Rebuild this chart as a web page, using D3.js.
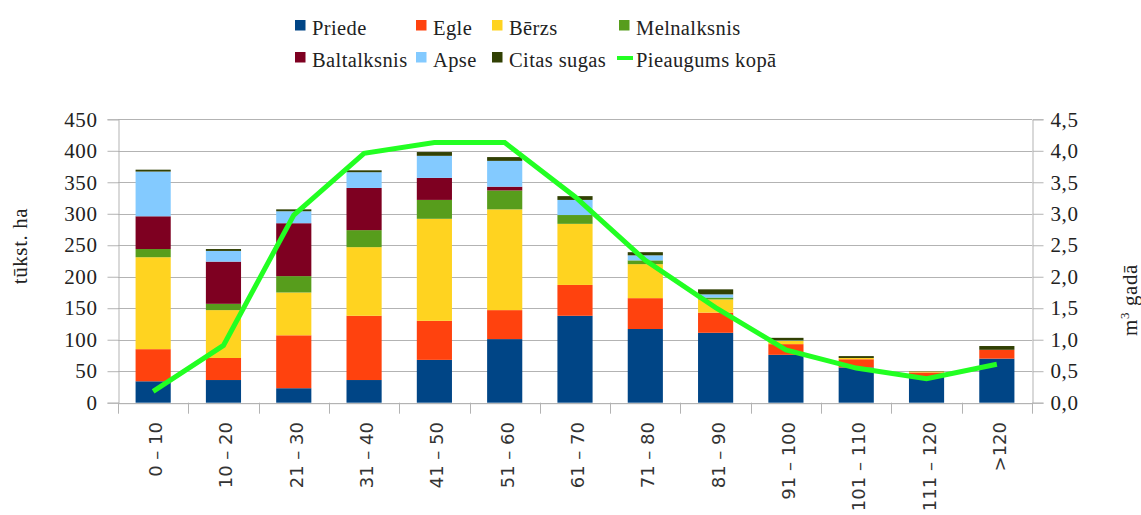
<!DOCTYPE html>
<html><head><meta charset="utf-8">
<script src="https://cdn.jsdelivr.net/npm/d3@7"></script>
<style>
html,body{margin:0;padding:0;background:#fff;}
svg{display:block;}
</style></head>
<body>
<svg id="chart" width="1141" height="515"></svg>
<script>
const categories = ["0 – 10","10 – 20","21 – 30","31 – 40","41 – 50","51 – 60","61 – 70","71 – 80","81 – 90","91 – 100","101 – 110","111 – 120",">120"];
const seriesNames = ["Priede","Egle","Bērzs","Melnalksnis","Baltalksnis","Apse","Citas sugas"];
const priede      = [34, 36, 23, 36, 68, 101, 138, 117, 111, 76, 56, 42, 70];
const egle        = [51, 35, 84, 102, 62, 46, 49, 49, 32, 17, 13, 6, 14];
const berzs       = [146, 76, 68, 109, 162, 160, 97, 54, 21, 5, 2, 1.5, 0];
const melnalksnis = [13, 10, 26, 27, 30, 30, 14, 6, 3, 0.5, 0, 0, 0];
const baltalksnis = [52, 67, 84, 67, 35, 6, 0, 0, 0, 0, 0, 0, 0];
const apse        = [71, 17, 19, 25, 35, 41, 24, 8, 5, 0.5, 0, 0, 0];
const citasSugas  = [3, 3, 3, 3, 6, 6, 6, 5, 8, 4, 3, 0.5, 6];
const pieaugums   = [0.18, 0.91, 2.98, 3.96, 4.13, 4.13, 3.27, 2.26, 1.51, 0.84, 0.55, 0.38, 0.61];
const leftTicks  = [0,50,100,150,200,250,300,350,400,450];
const rightTicks = [0,0.5,1,1.5,2,2.5,3,3.5,4,4.5];
const colors = ["#004586","#ff420e","#ffd320","#579d1c","#7e0021","#83caff","#314004"];
const lineColor = "#22ff22";
const lineName = "Pieaugums kopā";

const seriesData = [priede, egle, berzs, melnalksnis, baltalksnis, apse, citasSugas];
const rows = categories.map((c,i)=>{const r={cat:c}; seriesNames.forEach((s,j)=>r[s]=seriesData[j][i]); return r;});

const svg = d3.select("#chart");
const L = 118, R = 1032, T = 119.3, B = 402.7;
const serif = "'Liberation Serif', 'Times New Roman', serif";

const x = d3.scaleBand().domain(categories).range([L,R]).paddingInner(0.5).paddingOuter(0.25);
const y = d3.scaleLinear().domain([0,450]).range([B,T]);
const y2 = d3.scaleLinear().domain([0,4.5]).range([B,T]);

// gridlines
svg.append("g").selectAll("line").data(leftTicks).join("line")
  .attr("x1",L).attr("x2",R).attr("y1",d=>Math.round(y(d))+0.5).attr("y2",d=>Math.round(y(d))+0.5)
  .attr("stroke","#b3b3b3").attr("stroke-width",1);

// left axis
const gl = svg.append("g").attr("transform",`translate(${L+0.5},0)`)
  .call(d3.axisLeft(y).tickValues(leftTicks).tickSize(11).tickPadding(10).tickFormat(d3.format("d")));
gl.select(".domain").attr("stroke","#b3b3b3");
gl.selectAll(".tick line").attr("stroke","#b3b3b3");
gl.selectAll(".tick text").attr("font-family",serif).attr("font-size",21).attr("fill","#222").attr("letter-spacing","0.6px");

// right axis
const gr = svg.append("g").attr("transform",`translate(${R+0.5},0)`)
  .call(d3.axisRight(y2).tickValues(rightTicks).tickSize(11).tickPadding(7).tickFormat(d=>d3.format(".1f")(d).replace(".",",")));
gr.select(".domain").attr("stroke","#b3b3b3");
gr.selectAll(".tick line").attr("stroke","#b3b3b3");
gr.selectAll(".tick text").attr("font-family",serif).attr("font-size",21).attr("fill","#222").attr("letter-spacing","0.6px");

// bars
const stack = d3.stack().keys(seriesNames)(rows);
svg.append("g").selectAll("g").data(stack).join("g").attr("fill",(d,i)=>colors[i])
  .selectAll("rect").data(d=>d).join("rect")
  .attr("x",d=>x(d.data.cat)).attr("width",x.bandwidth())
  .attr("y",d=>y(d[1])).attr("height",d=>Math.max(0,y(d[0])-y(d[1])));

// x axis
const xb = d3.scaleBand().domain(categories).range([L,R]);
const gx = svg.append("g").attr("transform",`translate(0,${B+0.5})`)
  .call(d3.axisBottom(x).tickSize(0).tickPadding(0));
gx.select(".domain").attr("stroke","#b3b3b3");
gx.selectAll(".tick text").remove();
const bounds = d3.range(categories.length+1).map(i=>L+i*xb.step());
svg.append("g").selectAll("line").data(bounds).join("line")
  .attr("x1",d=>Math.round(d)+0.5).attr("x2",d=>Math.round(d)+0.5).attr("y1",B).attr("y2",B+11)
  .attr("stroke","#b3b3b3");
svg.append("g").selectAll("text").data(categories).join("text")
  .attr("transform",d=>`translate(${x(d)+x.bandwidth()/2+4},422) rotate(-90)`)
  .attr("text-anchor","end").attr("dominant-baseline","middle")
  .attr("font-family","'DejaVu Sans', sans-serif").attr("font-size",18).attr("fill","#333")
  .text(d=>d);

// line
const line = d3.line().x((d,i)=>x(categories[i])+x.bandwidth()/2).y(d=>y2(d));
svg.append("path").datum(pieaugums).attr("d",line).attr("fill","none")
  .attr("stroke",lineColor).attr("stroke-width",5).attr("stroke-linejoin","miter");

// axis titles
svg.append("text").attr("transform","translate(27,246) rotate(-90)").attr("text-anchor","middle")
  .attr("font-family",serif).attr("font-size",21).attr("fill","#222").attr("letter-spacing","0.6px").text("tūkst. ha");
const rt = svg.append("text").attr("transform","translate(1137,300) rotate(-90)").attr("text-anchor","middle")
  .attr("font-family",serif).attr("font-size",21).attr("fill","#222").attr("letter-spacing","0.6px");
rt.append("tspan").text("m");
rt.append("tspan").attr("dy",-8).attr("font-size",13).text("3");
rt.append("tspan").attr("dy",8).text(" gadā");

// legend
const legendItems = seriesNames.map((s,i)=>({name:s,color:colors[i],type:"rect"})).concat([{name:lineName,color:lineColor,type:"line"}]);
const colX = [295, 416, 492, 619];
const rowY = [20, 52];
const lg = svg.append("g");
legendItems.forEach((it,i)=>{
  const cx = colX[i%4], ry = rowY[Math.floor(i/4)];
  if(it.type==="rect") lg.append("rect").attr("x",cx).attr("y",ry).attr("width",10.5).attr("height",10.5).attr("fill",it.color);
  else lg.append("line").attr("x1",cx-2).attr("x2",cx+14).attr("y1",ry+6).attr("y2",ry+6).attr("stroke",it.color).attr("stroke-width",4);
  lg.append("text").attr("x",cx+17).attr("y",ry+14.5).attr("font-family",serif).attr("font-size",20.5)
    .attr("fill","#222").attr("letter-spacing","0.4px").text(it.name);
});
</script>
</body></html>
